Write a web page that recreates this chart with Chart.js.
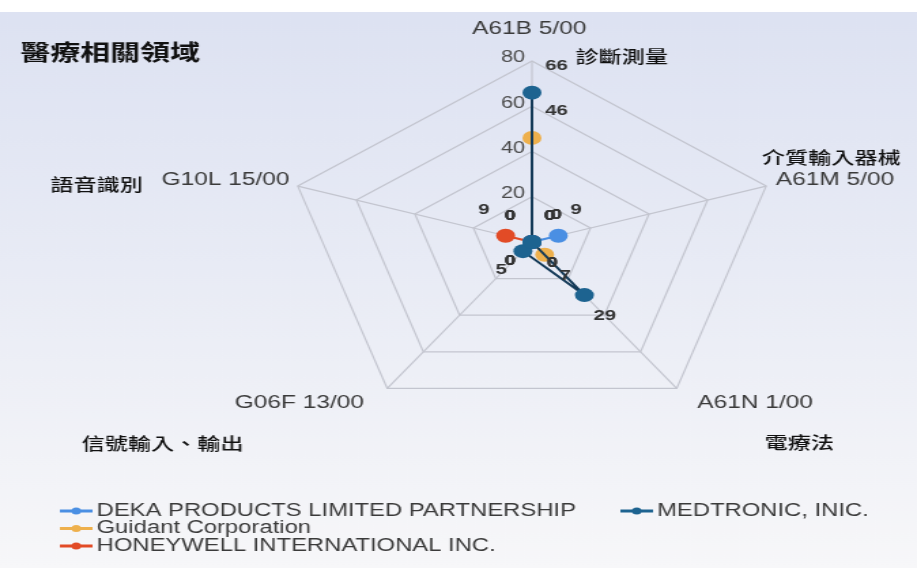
<!DOCTYPE html>
<html>
<head>
<meta charset="utf-8">
<title>醫療相關領域</title>
<script src="https://cdn.jsdelivr.net/npm/chart.js@4.4.1/dist/chart.umd.min.js"></script>
<style>
  html, body { margin: 0; padding: 0; background: #fff; overflow: hidden; }
  /* chart is laid out narrow and stretched out sideways */
  #wrap { width: 674px; height: 568px; transform: scaleX(1.3605); transform-origin: 0 0; }
</style>
</head>
<body>
<div id="wrap"><canvas id="radar"></canvas></div>
<script>
const categories = ['A61B 5/00', 'A61M 5/00', 'A61N 1/00', 'G06F 13/00', 'G10L 15/00'];
const fieldNames = ['診斷測量', '介質輸入器械', '電療法', '信號輸入、輸出', '語音識別'];
const companies = ['DEKA PRODUCTS LIMITED PARTNERSHIP', 'Guidant Corporation', 'HONEYWELL INTERNATIONAL INC.', 'MEDTRONIC, INIC.'];
const dekaValues = [0, 9, 0, 0, 0];
const guidantValues = [46, 0, 7, 0, 0];
const honeywellValues = [0, 0, 0, 0, 9];
const medtronicValues = [66, 0, 29, 5, 0];
const scaleMax = 80;
const tickStep = 20;

const LATIN = "'Liberation Sans', Arial, sans-serif";
const CJK = "'Noto Sans CJK TC', 'Noto Sans CJK SC', sans-serif";

Chart.defaults.font.family = LATIN;

function series(label, data, line, dot, order) {
  return {
    label: label,
    data: data,
    order: order,
    borderColor: line,
    backgroundColor: 'transparent',
    borderWidth: 2,
    fill: false,
    pointRadius: 7,
    pointHoverRadius: 7,
    pointBackgroundColor: dot,
    pointBorderColor: dot,
    pointBorderWidth: 0
  };
}

// page background: white strip on top, soft lavender fading down
const backdrop = {
  id: 'backdrop',
  beforeDraw(chart) {
    const { ctx, width, height } = chart;
    ctx.save();
    ctx.fillStyle = '#ffffff';
    ctx.fillRect(0, 0, width, height);
    const g = ctx.createLinearGradient(0, 12, 0, height);
    g.addColorStop(0, '#dde2f2');
    g.addColorStop(0.45, '#e8ebf5');
    g.addColorStop(1, '#f7f7f9');
    ctx.fillStyle = g;
    ctx.fillRect(0, 12, width, height - 12);
    ctx.restore();
  }
};

// tick numbers sit just left of the top spoke
const tickText = {
  id: 'tickText',
  beforeDatasetsDraw(chart) {
    const r = chart.scales.r;
    const ctx = chart.ctx;
    ctx.save();
    ctx.font = '16px ' + LATIN;
    ctx.fillStyle = '#4a4a4a';
    ctx.textAlign = 'right';
    ctx.textBaseline = 'middle';
    r.ticks.forEach(t => {
      if (t.value === 0) return;
      const y = r.yCenter - r.getDistanceFromCenterForValue(t.value);
      ctx.fillText(t.label, r.xCenter - 5, y - 3);
    });
    ctx.restore();
  }
};

// category codes around the pentagon
const axisText = {
  id: 'axisText',
  beforeDatasetsDraw(chart) {
    const r = chart.scales.r;
    const ctx = chart.ctx;
    const place = [[-2, -32, 'center'], [7, -6, 'left'], [15, 15, 'left'], [-17, 15, 'right'], [-6, -6, 'right']];
    ctx.save();
    ctx.font = '18px ' + LATIN;
    ctx.fillStyle = '#3a3a3a';
    ctx.textBaseline = 'middle';
    chart.data.labels.forEach((lab, i) => {
      const p = r.getPointPosition(i, r.drawingArea);
      const [dx, dy, align] = place[i];
      ctx.textAlign = align;
      ctx.fillText(lab, p.x + dx, p.y + dy);
    });
    ctx.restore();
  }
};

// value labels next to each point
const valueText = {
  id: 'valueText',
  afterDatasetsDraw(chart) {
    const ctx = chart.ctx;
    const offs = [[18, -27], [13, -26], [15, 21], [-16, 19], [-16, -26]];
    ctx.save();
    ctx.font = 'bold 15px ' + LATIN;
    ctx.fillStyle = '#333';
    ctx.textAlign = 'center';
    ctx.textBaseline = 'middle';
    chart.data.datasets.forEach((ds, di) => {
      chart.getDatasetMeta(di).data.forEach((pt, i) => {
        ctx.fillText(String(ds.data[i]), pt.x + offs[i][0], pt.y + offs[i][1]);
      });
    });
    ctx.restore();
  }
};

// chinese field names written beside the codes
const fieldText = {
  id: 'fieldText',
  afterDraw(chart) {
    const ctx = chart.ctx;
    const spots = [[423, 57], [560, 158], [562, 443], [60, 444], [37, 185]];
    ctx.save();
    ctx.font = '500 17px ' + CJK;
    ctx.fillStyle = '#111';
    ctx.textAlign = 'left';
    ctx.textBaseline = 'middle';
    fieldNames.forEach((name, i) => ctx.fillText(name, spots[i][0], spots[i][1]));
    ctx.restore();
  }
};

// legend: three rows in the first column, the rest in a second column
const legendBox = {
  id: 'legendBox',
  afterDraw(chart) {
    const ctx = chart.ctx;
    ctx.save();
    ctx.font = '17.5px ' + LATIN;
    ctx.textAlign = 'left';
    ctx.textBaseline = 'middle';
    chart.data.datasets.forEach((ds, k) => {
      const x = 44 + Math.floor(k / 3) * 412;
      const y = 511 + (k % 3) * 17.5;
      ctx.strokeStyle = ds.pointBackgroundColor;
      ctx.lineWidth = 3;
      ctx.beginPath();
      ctx.moveTo(x, y);
      ctx.lineTo(x + 24, y);
      ctx.stroke();
      ctx.fillStyle = ds.pointBackgroundColor;
      ctx.beginPath();
      ctx.arc(x + 12, y, 3.5, 0, Math.PI * 2);
      ctx.fill();
      ctx.fillStyle = '#3a3a3a';
      ctx.fillText(ds.label, x + 27, y);
    });
    ctx.restore();
  }
};

new Chart(document.getElementById('radar'), {
  type: 'radar',
  data: {
    labels: categories,
    datasets: [
      series(companies[0], dekaValues, '#4a8fe3', '#4a8fe3', 1),
      series(companies[1], guidantValues, '#eeb04c', '#eeb04c', 2),
      series(companies[2], honeywellValues, '#e24b26', '#e24b26', 3),
      series(companies[3], medtronicValues, '#143a58', '#1d6390', 0)
    ]
  },
  options: {
    responsive: true,
    maintainAspectRatio: false,
    animation: false,
    layout: { padding: { left: 15 } },
    plugins: {
      legend: { display: false },
      tooltip: { enabled: false },
      title: {
        display: true,
        text: '醫療相關領域',
        align: 'start',
        color: '#111',
        font: { family: CJK, size: 22, weight: 'bold' },
        padding: { top: 38, bottom: 0 }
      }
    },
    scales: {
      r: {
        min: 0,
        max: scaleMax,
        ticks: { stepSize: tickStep, display: false },
        pointLabels: { display: false },
        grid: { color: '#c3c5cf', lineWidth: 1.2 },
        angleLines: { color: '#c3c5cf', lineWidth: 1.2 },
        afterFit(scale) {
          scale.xCenter = 391;
          scale.yCenter = 242;
          scale.drawingArea = 181;
        }
      }
    }
  },
  plugins: [backdrop, tickText, axisText, valueText, fieldText, legendBox]
});
</script>
</body>
</html>
